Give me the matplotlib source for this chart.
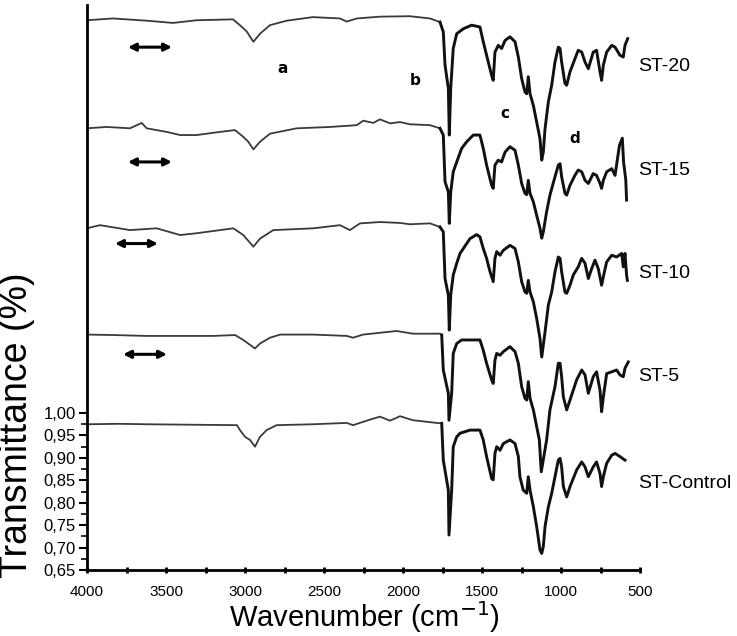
import numpy as np
import matplotlib
matplotlib.use("Agg")
import matplotlib.pyplot as plt
from matplotlib.ticker import FixedLocator, FuncFormatter

plt.rcParams['font.family'] = ['Liberation Sans', 'DejaVu Sans']

# spectra: wavenumber (cm-1) and plotted value
ctrl_wn = [4000, 3800, 3620, 3051, 3032, 3000, 2968, 2937, 2905, 2863, 2800, 2570, 2356, 2316,
           2230, 2146, 2082, 2019, 1937, 1787, 1755, 1745, 1713, 1709, 1692, 1682, 1660, 1639,
           1576, 1513, 1492, 1471, 1439, 1429, 1418, 1407, 1386, 1365, 1323, 1291, 1270, 1260,
           1239, 1217, 1207, 1196, 1175, 1154, 1133, 1122, 1112, 1101, 1080, 1059, 1038, 1017,
           1006, 996, 985, 964, 943, 901, 869, 848, 827, 796, 775, 753, 743, 732, 711, 679,
           658, 627, 595]
ctrl_t = [0.975, 0.976, 0.975, 0.973, 0.962, 0.947, 0.940, 0.925, 0.947, 0.962, 0.973, 0.975,
          0.978, 0.973, 0.983, 0.992, 0.983, 0.993, 0.984, 0.978, 0.977, 0.895, 0.828, 0.728,
          0.828, 0.925, 0.947, 0.955, 0.962, 0.962, 0.940, 0.903, 0.854, 0.851, 0.910, 0.925,
          0.917, 0.932, 0.940, 0.932, 0.903, 0.858, 0.828, 0.821, 0.858, 0.828, 0.791, 0.747,
          0.695, 0.687, 0.702, 0.747, 0.791, 0.821, 0.858, 0.895, 0.899, 0.880, 0.836, 0.813,
          0.836, 0.873, 0.891, 0.880, 0.858, 0.880, 0.891, 0.865, 0.836, 0.858, 0.888, 0.906,
          0.910, 0.903, 0.895]

st5_wn = [4000, 3834, 3622, 3411, 3201, 3063, 3011, 2968, 2937, 2905, 2842, 2778, 2570, 2356,
          2316, 2253, 2040, 1937, 1810, 1766, 1755, 1745, 1713, 1709, 1692, 1682, 1660, 1629,
          1513, 1492, 1471, 1439, 1429, 1418, 1407, 1386, 1365, 1323, 1291, 1270, 1249, 1228,
          1217, 1207, 1196, 1175, 1154, 1137, 1125, 1091, 1070, 1038, 1017, 1006, 996, 985,
          964, 943, 901, 869, 848, 827, 796, 775, 753, 743, 732, 711, 679, 648, 627, 606,
          595, 574]
st5_t = [1.175, 1.174, 1.172, 1.172, 1.172, 1.174, 1.163, 1.152, 1.144, 1.155, 1.168, 1.175,
         1.175, 1.172, 1.168, 1.175, 1.183, 1.177, 1.177, 1.177, 1.174, 1.096, 1.044, 0.984,
         1.044, 1.133, 1.155, 1.163, 1.163, 1.140, 1.111, 1.074, 1.066, 1.118, 1.133, 1.129,
         1.137, 1.148, 1.137, 1.111, 1.059, 1.033, 1.029, 1.070, 1.033, 1.007, 0.970, 0.940,
         0.869, 0.940, 1.007, 1.059, 1.111, 1.111, 1.081, 1.036, 1.007, 1.029, 1.074, 1.096,
         1.085, 1.044, 1.081, 1.092, 1.051, 1.003, 1.036, 1.088, 1.092, 1.096, 1.085, 1.081,
         1.100, 1.114]

st10_wn = [4000, 3918, 3728, 3559, 3411, 3306, 3074, 3011, 2947, 2905, 2821, 2568, 2399, 2336,
           2272, 2146, 2019, 1956, 1829, 1766, 1745, 1734, 1713, 1707, 1698, 1682, 1660, 1639,
           1618, 1576, 1534, 1513, 1492, 1471, 1449, 1429, 1418, 1407, 1386, 1365, 1323, 1291,
           1270, 1249, 1228, 1217, 1207, 1196, 1175, 1154, 1133, 1122, 1101, 1080, 1059, 1038,
           1017, 1006, 996, 975, 964, 943, 922, 891, 869, 848, 827, 806, 785, 764, 743, 732,
           711, 679, 648, 616, 606, 595, 585, 580]
st10_t = [1.412, 1.419, 1.408, 1.412, 1.397, 1.401, 1.412, 1.397, 1.371, 1.389, 1.408, 1.412,
          1.419, 1.408, 1.423, 1.426, 1.424, 1.421, 1.423, 1.415, 1.404, 1.300, 1.263, 1.185,
          1.263, 1.308, 1.334, 1.356, 1.367, 1.389, 1.398, 1.393, 1.367, 1.345, 1.315, 1.293,
          1.345, 1.360, 1.352, 1.363, 1.374, 1.367, 1.337, 1.293, 1.270, 1.267, 1.296, 1.270,
          1.248, 1.211, 1.166, 1.125, 1.181, 1.241, 1.270, 1.315, 1.348, 1.345, 1.315, 1.270,
          1.267, 1.285, 1.308, 1.326, 1.345, 1.334, 1.300, 1.322, 1.341, 1.322, 1.285, 1.304,
          1.337, 1.352, 1.348, 1.356, 1.326, 1.356, 1.308, 1.296]

st15_wn = [4000, 3876, 3728, 3654, 3622, 3496, 3411, 3306, 3158, 3063, 3011, 2979, 2947, 2905,
           2842, 2673, 2462, 2293, 2251, 2188, 2146, 2082, 2019, 1956, 1829, 1766, 1745, 1734,
           1713, 1707, 1698, 1682, 1660, 1629, 1597, 1555, 1513, 1492, 1471, 1439, 1429, 1418,
           1397, 1376, 1354, 1323, 1291, 1270, 1249, 1228, 1217, 1207, 1196, 1175, 1154, 1133,
           1122, 1112, 1091, 1070, 1038, 1017, 1006, 996, 975, 964, 943, 912, 891, 869, 848,
           827, 796, 775, 753, 743, 732, 711, 679, 658, 630, 612, 604, 590, 585]
st15_t = [1.635, 1.638, 1.635, 1.647, 1.635, 1.627, 1.620, 1.620, 1.627, 1.631, 1.616, 1.605,
          1.588, 1.605, 1.623, 1.635, 1.638, 1.642, 1.652, 1.647, 1.655, 1.646, 1.649, 1.644,
          1.642, 1.635, 1.620, 1.516, 1.493, 1.423, 1.493, 1.538, 1.560, 1.590, 1.605, 1.620,
          1.620, 1.590, 1.553, 1.508, 1.501, 1.553, 1.564, 1.560, 1.582, 1.594, 1.586, 1.553,
          1.512, 1.490, 1.487, 1.519, 1.490, 1.471, 1.441, 1.412, 1.390, 1.404, 1.449, 1.486,
          1.527, 1.553, 1.556, 1.527, 1.490, 1.486, 1.508, 1.530, 1.542, 1.538, 1.519, 1.512,
          1.534, 1.530, 1.512, 1.501, 1.519, 1.538, 1.545, 1.530, 1.597, 1.613, 1.560, 1.520,
          1.475]

st20_wn = [4000, 3835, 3622, 3455, 3306, 3076, 3032, 2989, 2947, 2905, 2842, 2736, 2570, 2399,
           2356, 2293, 2146, 1956, 1829, 1766, 1745, 1734, 1713, 1707, 1698, 1682, 1660, 1618,
           1566, 1513, 1492, 1471, 1439, 1429, 1418, 1397, 1376, 1354, 1323, 1291, 1270, 1249,
           1228, 1217, 1207, 1196, 1175, 1154, 1133, 1122, 1112, 1101, 1080, 1059, 1038, 1017,
           1006, 996, 975, 964, 943, 912, 891, 869, 848, 827, 796, 775, 753, 743, 732, 711,
           679, 658, 627, 606, 595, 578]
st20_t = [1.876, 1.880, 1.875, 1.870, 1.876, 1.878, 1.865, 1.851, 1.828, 1.846, 1.865, 1.875,
          1.883, 1.880, 1.873, 1.880, 1.884, 1.885, 1.880, 1.872, 1.850, 1.776, 1.724, 1.620,
          1.724, 1.813, 1.846, 1.857, 1.865, 1.861, 1.828, 1.798, 1.753, 1.742, 1.805, 1.820,
          1.813, 1.831, 1.839, 1.828, 1.794, 1.746, 1.716, 1.712, 1.750, 1.712, 1.686, 1.649,
          1.612, 1.564, 1.582, 1.634, 1.694, 1.731, 1.783, 1.816, 1.813, 1.783, 1.735, 1.731,
          1.761, 1.790, 1.809, 1.805, 1.783, 1.768, 1.805, 1.809, 1.761, 1.742, 1.776, 1.805,
          1.820, 1.816, 1.798, 1.794, 1.820, 1.835]

names = ["ST-Control", "ST-5", "ST-10", "ST-15", "ST-20"]
spectra = [(ctrl_wn, ctrl_t), (st5_wn, st5_t), (st10_wn, st10_t), (st15_wn, st15_t), (st20_wn, st20_t)]
label_y = [0.844, 1.081, 1.312, 1.542, 1.772]

# band markers and the double arrows
band_letters = ["a", "b", "c", "d"]
band_pos = [(2760, 1.769), (1924, 1.742), (1355, 1.669), (912, 1.613)]
arrows = [(3772, 3494, 1.131), (3823, 3551, 1.378), (3741, 3462, 1.560), (3741, 3462, 1.816)]

fig = plt.figure(figsize=(7.37, 6.36), dpi=100)
ax = fig.add_axes([87 / 737, 66 / 636, 553 / 737, 565 / 636])

for (wn, t), name, ly in zip(spectra, names, label_y):
    wn = np.array(wn)
    t = np.array(t)
    # the flat high-wavenumber part is drawn thinner, as in the scan
    k = np.where(wn >= 1755)[0][-1]
    ax.plot(wn[:k + 1], t[:k + 1], color="#3a3a3a", lw=1.3)
    ax.plot(wn[k:], t[k:], color="#111111", lw=2.1, solid_joinstyle="round")
    ax.text(513, ly, name, fontsize=14, va="center", ha="left", clip_on=False)

for s, (x, y) in zip(band_letters, band_pos):
    ax.text(x, y, s, fontsize=11, fontweight="bold", family="DejaVu Sans",
            ha="center", va="center")

for x0, x1, y in arrows:
    ax.annotate("", xy=(x1, y), xytext=(x0, y),
                arrowprops=dict(arrowstyle="<|-|>", color="black", lw=2.2,
                                mutation_scale=11, shrinkA=0, shrinkB=0))

ax.set_xlim(4000, 500)
ax.set_ylim(0.65, 1.91)

for side in ["top", "right"]:
    ax.spines[side].set_visible(False)
for side in ["left", "bottom"]:
    ax.spines[side].set_linewidth(2)

ax.xaxis.set_major_locator(FixedLocator(np.arange(4000, 499, -500)))
ax.xaxis.set_minor_locator(FixedLocator(np.arange(3750, 500, -500)))
ax.tick_params(axis="x", which="both", direction="inout", length=4, width=2, pad=9,
               labelsize=11)

ax.yaxis.set_major_locator(FixedLocator(np.round(np.arange(0.65, 1.001, 0.05), 2)))
ax.yaxis.set_minor_locator(FixedLocator(np.round(np.arange(0.675, 1.0, 0.05), 3)))
ax.yaxis.set_major_formatter(FuncFormatter(lambda v, p: f"{v:.2f}".replace(".", ",")))
ax.tick_params(axis="y", which="major", direction="out", length=6, width=1.5, pad=2,
               labelsize=12)
ax.tick_params(axis="y", which="minor", direction="out", length=4, width=1.2)

fig.text(17 / 737, 1 - 425 / 636, "Transmittance (%)", rotation=90, fontsize=27,
         ha="center", va="center")
fig.text(364 / 737, 1 - 617 / 636, "Wavenumber (cm$^{-1}$)", fontsize=21,
         ha="center", va="center")

fig.savefig("out.png", dpi=100)
